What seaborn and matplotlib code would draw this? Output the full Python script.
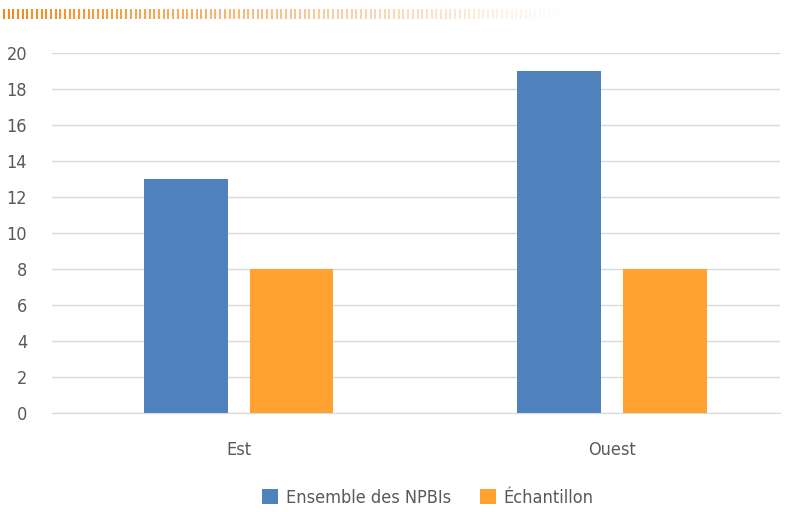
import numpy as np
import pandas as pd
import matplotlib.pyplot as plt
import seaborn as sns

regions = ["Est", "Ouest"]
ensemble = [13, 19]
echantillon = [8, 8]
series = ["Ensemble des NPBIs", "Échantillon"]
colors = ["#4F81BD", "#FFA22F"]

df = pd.DataFrame({
    "region": regions * 2,
    "valeur": ensemble + echantillon,
    "serie": [series[0]] * 2 + [series[1]] * 2,
})

sns.set_style("white")
plt.rcParams['font.family'] = ['DejaVu Sans']
plt.rcParams['font.stretch'] = 'condensed'
txt = "#595959"

fig = plt.figure(figsize=(7.93, 5.12), dpi=100)
ax = fig.add_axes([52 / 793, 1 - 413 / 512, 728 / 793, 360 / 512])

sns.barplot(data=df, x="region", y="valeur", hue="serie", palette=colors,
            width=0.567, gap=0.208, saturation=1, linewidth=0, ax=ax, legend=True)

ax.set_ylim(0, 20)
ax.set_yticks(range(0, 21, 2))
ax.set_xlim(-0.5, 1.45)
ax.yaxis.grid(True, color="#D9D9D9", linewidth=1)
ax.set_axisbelow(True)
for s in ["top", "right", "left"]:
    ax.spines[s].set_visible(False)
ax.spines["bottom"].set_color("#D9D9D9")
ax.set_xlabel("")
ax.set_ylabel("")
ax.tick_params(axis="both", length=0, labelsize=13, labelcolor=txt)
ax.tick_params(axis="y", pad=18)
ax.tick_params(axis="x", pad=20)

ax.legend(loc="upper center", bbox_to_anchor=(0.516, -0.165), ncol=2, frameon=False,
          fontsize=13, labelcolor=txt, handlelength=0.9, handleheight=0.9,
          handletextpad=0.4, columnspacing=1.6)

# decorative stripe at top
deco = fig.add_axes([0, 1 - 20 / 512, 1, 12 / 512])
deco.set_xlim(0, 793)
deco.set_ylim(0, 1)
deco.axis("off")
xs = np.arange(4, 565, 4.7)
for i, x in enumerate(xs):
    a = max(0.0, 1 - i / len(xs))
    deco.vlines(x, 0.05, 0.95, color="#EE8A1C", alpha=a, linewidth=1.5)

fig.savefig("out.png", dpi=100)
